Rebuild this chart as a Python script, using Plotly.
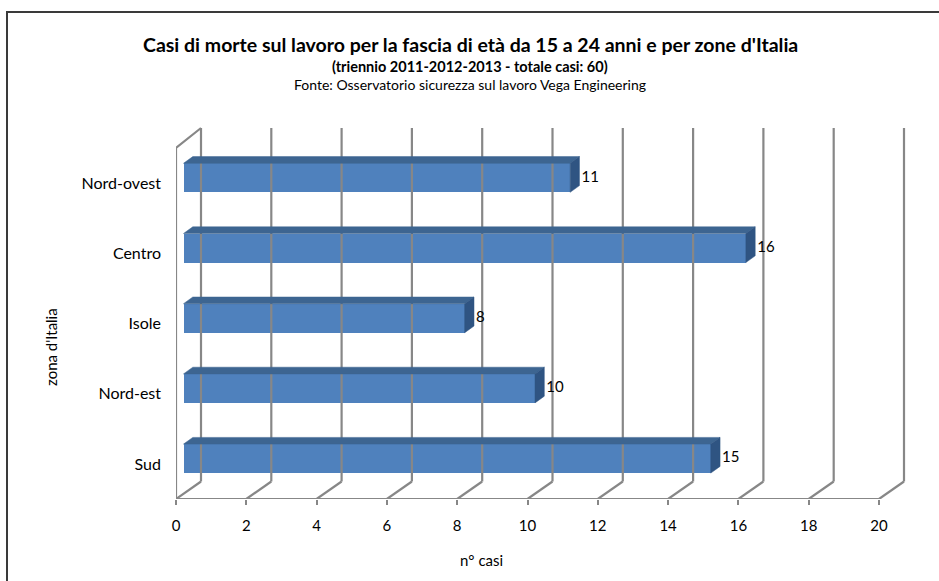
import plotly.graph_objects as go

# ---- data -------------------------------------------------------------
categories = ["Sud", "Nord-est", "Isole", "Centro", "Nord-ovest"]
values = [15, 10, 8, 16, 11]
x_ticks = [0, 2, 4, 6, 8, 10, 12, 14, 16, 18, 20]

title = "Casi di morte sul lavoro per la fascia di età da 15 a 24 anni e per zone d'Italia"
subtitle = "(triennio 2011-2012-2013 - totale casi: 60)"
source = "Fonte: Osservatorio sicurezza sul lavoro Vega Engineering"
x_title = "n° casi"
y_title = "zona d'Italia"

# ---- geometry ---------------------------------------------------------
W, H = 939, 581
L, R, T, B = 176, 25, 120, 82          # plot margins (px)
X_MAX = 20
plot_w = W - L - R
plot_h = H - T - B
n = len(categories)
px_x = 703 / X_MAX                     # px per unit on the value axis
px_y = 351 / n                         # px per category band
x_range = [0, plot_w / px_x]
y_range = [-0.5, -0.5 + plot_h / px_y]


def ux(p):
    return p / px_x


def uy(p):
    return p / px_y


# depth offsets of the pseudo-3D box (px right, px up)
WALL_DX, WALL_UP_FLOOR, WALL_UP_TOP = 25, 17.5, 20
BAR_FRONT_DX, BAR_FRONT_UP = 7.5, 5.3
BAR_BACK_DX, BAR_BACK_UP = 16.8, 12.0
BAR_HALF = 14.5

GRID = "#878787"
FRONT = "#4F81BD"
TOP = "#3D6591"
SIDE = "#2F5482"
FONT = "Lato"

fig = go.Figure()

# ---- walls and gridlines ------------------------------------------------
floor_y = -0.5
back_floor = floor_y + uy(WALL_UP_FLOOR)
front_top = n - 0.5
back_top = front_top + uy(WALL_UP_TOP)
gx, gy = [], []
for v in x_ticks:
    # back wall vertical
    gx += [v + ux(WALL_DX), v + ux(WALL_DX), None]
    gy += [back_floor, back_top, None]
    # floor diagonal
    gx += [v, v + ux(WALL_DX), None]
    gy += [floor_y, back_floor, None]
# front floor edge
gx += [x_ticks[0], x_ticks[-1], None]
gy += [floor_y, floor_y, None]
# left wall
gx += [0, 0, ux(WALL_DX), None]
gy += [floor_y, front_top, back_top, None]
fig.add_trace(go.Scatter(x=gx, y=gy, mode="lines",
                         line=dict(color=GRID, width=2.2),
                         hoverinfo="skip", showlegend=False))

# ---- bars ---------------------------------------------------------------
h = uy(BAR_HALF)
fx, fu = ux(BAR_FRONT_DX), uy(BAR_FRONT_UP)
bx, bu = ux(BAR_BACK_DX), uy(BAR_BACK_UP)
for i, v in enumerate(values):
    yf = i + fu
    yb = i + bu
    # top face
    fig.add_trace(go.Scatter(
        x=[fx, bx, bx + v, fx + v, fx],
        y=[yf + h, yb + h, yb + h, yf + h, yf + h],
        fill="toself", fillcolor=TOP, mode="lines",
        line=dict(color=TOP, width=0.5), hoverinfo="skip", showlegend=False))
    # side face
    fig.add_trace(go.Scatter(
        x=[fx + v, bx + v, bx + v, fx + v, fx + v],
        y=[yf - h, yb - h, yb + h, yf + h, yf - h],
        fill="toself", fillcolor=SIDE, mode="lines",
        line=dict(color=SIDE, width=0.5), hoverinfo="skip", showlegend=False))

fig.add_trace(go.Bar(
    orientation="h",
    y=[i + fu for i in range(n)],
    x=values,
    base=fx,
    width=2 * h,
    marker=dict(color=FRONT, line=dict(width=0)),
    hoverinfo="skip", showlegend=False))

# value labels
fig.add_trace(go.Scatter(
    x=[bx + v + ux(2) for v in values],
    y=[i + fu for i in range(n)],
    text=[str(v) for v in values],
    mode="text", textposition="middle right",
    textfont=dict(family=FONT, size=15, color="#000000"),
    hoverinfo="skip", showlegend=False, cliponaxis=False))


# ---- texts ----------------------------------------------------------------
def pxp(px):
    return (px - L) / plot_w


def pyp(py):
    return (H - B - py) / plot_h


ann = [
    dict(text="<b>" + title + "</b>", x=pxp(470), y=pyp(44),
         font=dict(family=FONT, size=19.5, color="#000000")),
    dict(text="<b>" + subtitle + "</b>", x=pxp(470), y=pyp(67),
         font=dict(family=FONT, size=14.5, color="#000000")),
    dict(text=source, x=pxp(470), y=pyp(85),
         font=dict(family=FONT, size=14, color="#000000")),
    dict(text=x_title, x=pxp(481), y=pyp(560),
         font=dict(family=FONT, size=15, color="#000000")),
    dict(text=y_title, x=pxp(51), y=pyp(347), textangle=-90,
         font=dict(family=FONT, size=15, color="#000000")),
]
for a in ann:
    a.update(xref="paper", yref="paper", showarrow=False,
             xanchor="center", yanchor="middle")

fig.update_layout(
    width=W, height=H,
    margin=dict(l=L, r=R, t=T, b=B),
    paper_bgcolor="white", plot_bgcolor="white",
    bargap=0,
    annotations=ann,
    shapes=[dict(type="rect", xref="paper", yref="paper",
                 x0=pxp(7), x1=pxp(960), y0=pyp(600), y1=pyp(12),
                 line=dict(color="#3A3A3A", width=2), layer="above")],
    xaxis=dict(range=x_range, tickvals=x_ticks, ticks="outside",
               ticklen=5, tickwidth=2, tickcolor=GRID,
               showgrid=False, zeroline=False, showline=False,
               ticklabelstandoff=8,
               tickfont=dict(family=FONT, size=15, color="#000000")),
    yaxis=dict(range=y_range, tickvals=list(range(n)), ticktext=categories,
               showgrid=False, zeroline=False, showline=False, ticks="",
               ticklabelstandoff=14,
               tickfont=dict(family=FONT, size=16, color="#000000")),
)

fig.write_html("out.html")
